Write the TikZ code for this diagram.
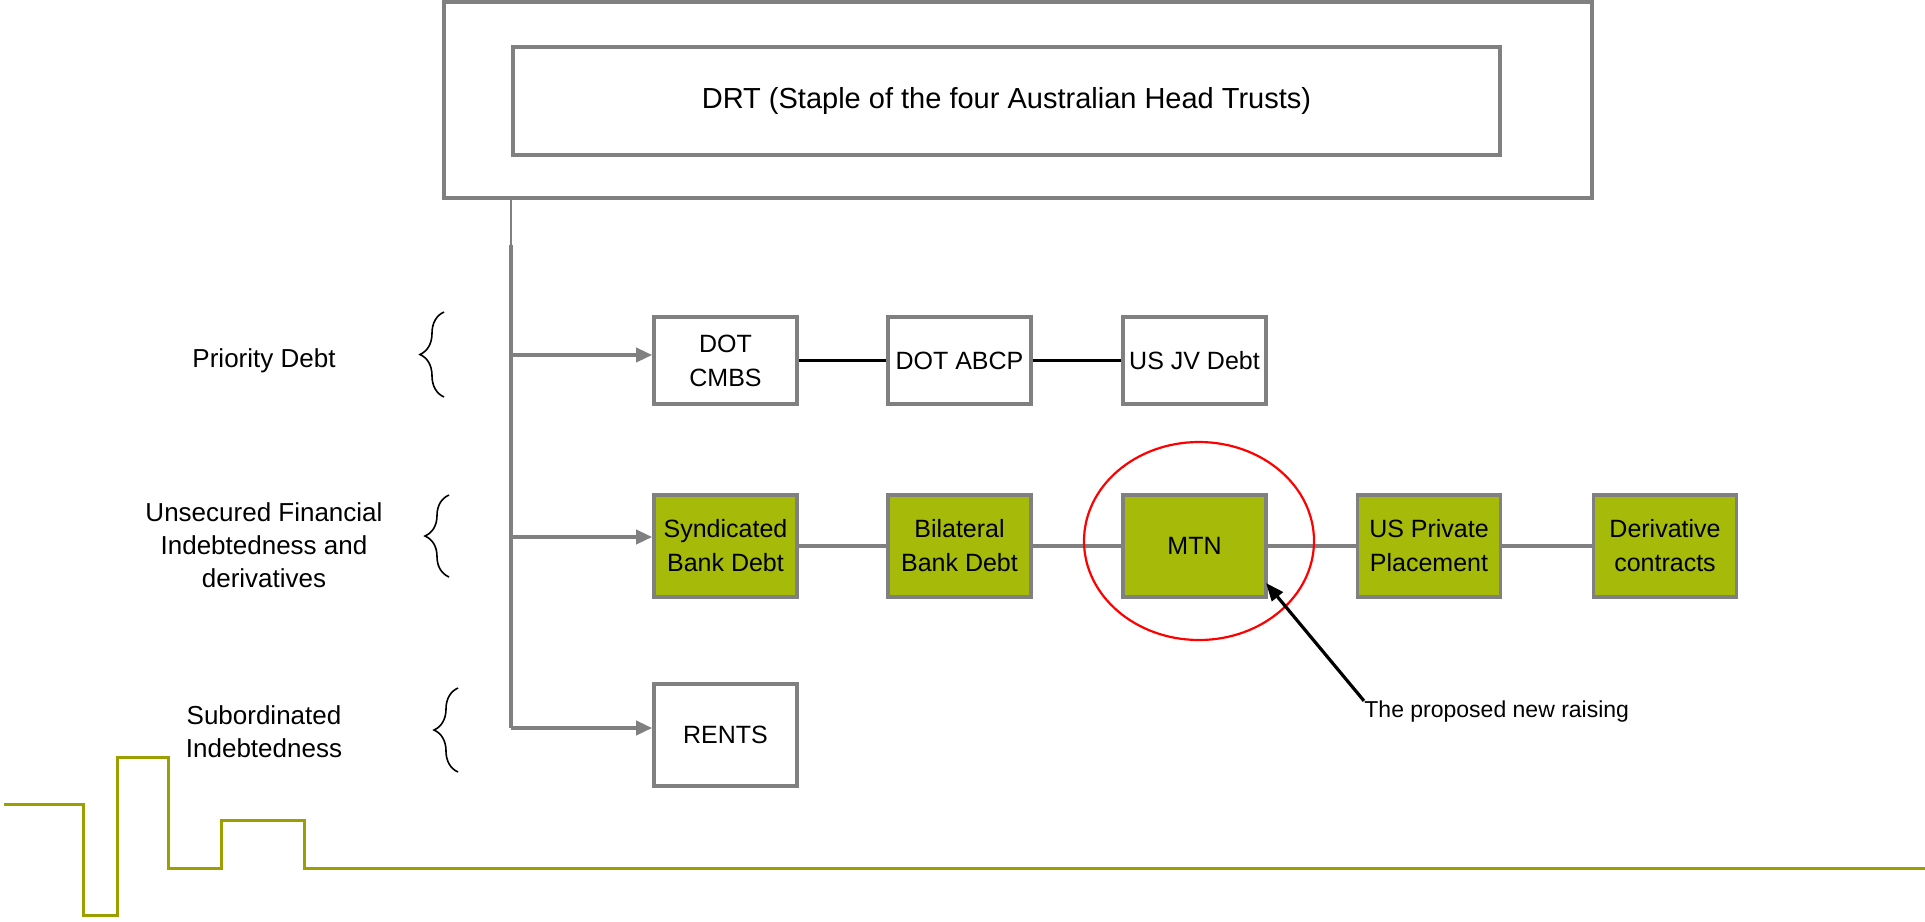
\documentclass[tikz,border=0pt]{standalone}
\usepackage{fontspec}
\setmainfont{Liberation Sans}
\usetikzlibrary{arrows.meta,decorations.pathreplacing}
\definecolor{boxgray}{RGB}{128,128,128}
\definecolor{leaf}{RGB}{166,186,10}
\definecolor{wavecol}{RGB}{155,160,0}
\begin{document}
\begin{tikzpicture}[x=0.5pt,y=-0.5pt,
    debt/.style={draw=boxgray, line width=1.8pt, fill=white, minimum width=71.5pt, minimum height=51pt, inner sep=1pt, align=center, font=\fontsize{12.5}{17}\selectfont},
    unsec/.style={debt, fill=leaf},
    feed/.style={draw=boxgray, line width=1.8pt, -{Triangle[length=8pt,width=7pt]}},
    link/.style={line width=1.6pt},
    tier/.style={align=center, font=\fontsize{13}{16.5}\selectfont},
    curly/.style={decorate, decoration={brace, amplitude=12pt}, line width=0.8pt}]
    \useasboundingbox (0,0) rectangle (1925,921);
    %riquadro DRT
    \node[draw=boxgray, line width=1.8pt, minimum width=574pt, minimum height=97.75pt] (trusts) at (1018,100) {};
    \node[draw=boxgray, line width=1.8pt, minimum width=493.5pt, minimum height=54pt, font=\fontsize{14.5}{17}\selectfont] (drt) at (1006.5,101) {DRT (Staple of the four Australian Head Trusts)};
    %tronco verticale
    \coordinate (top) at (511,198);
    \coordinate (knee) at (511,245);
    \coordinate (t1) at (511,355);
    \coordinate (t2) at (511,537);
    \coordinate (foot) at (511,728);
    \draw[boxgray, line width=0.6pt] (top) -- (knee);
    \draw[boxgray, line width=1.8pt] (knee) -- (foot);
    %scatole
    \node[debt, minimum height=43.5pt] (cmbs) at (725.5,360.5) {DOT\\CMBS};
    \node[debt, minimum height=43.5pt] (abcp) at (959.5,360.5) {DOT ABCP};
    \node[debt, minimum height=43.5pt] (usjv) at (1194.5,360.5) {US JV Debt};
    \node[unsec] (synd) at (725.5,546) {Syndicated\\Bank Debt};
    \node[unsec] (bilat) at (959.5,546) {Bilateral\\Bank Debt};
    \node[unsec] (mtn) at (1194.5,546) {MTN};
    \node[unsec] (uspp) at (1429,546) {US Private\\Placement};
    \node[unsec] (deriv) at (1665,546) {Derivative\\contracts};
    \node[debt] (rents) at (725.5,735) {RENTS};
    %frecce
    \draw[feed] (t1) -- (t1 -| cmbs.west);
    \draw[feed] (t2) -- (t2 -| synd.west);
    \draw[feed] (foot) -- (foot -| rents.west);
    \draw[link] (cmbs) -- (abcp);
    \draw[link] (abcp) -- (usjv);
    \draw[link, boxgray] (synd) -- (bilat);
    \draw[link, boxgray] (bilat) -- (mtn);
    \draw[link, boxgray] (mtn) -- (uspp);
    \draw[link, boxgray] (uspp) -- (deriv);
    %MTN evidenziato
    \coordinate (ring) at (1199,541);
    \draw[red, line width=1.1pt] (ring) ellipse [x radius=57.5pt, y radius=49.5pt];
    \node[anchor=west, inner sep=0pt, font=\fontsize{11.5}{14}\selectfont] (raising) at (1364,712) {The proposed new raising};
    \coordinate (hit) at (1266,583);
    \draw[link, -{Triangle[length=9pt,width=7pt]}] (raising.north west) -- (hit);
    %etichette a sinistra
    \node[tier] (prio) at (264,361) {Priority Debt};
    \node[tier] (unsecl) at (264,545) {Unsecured Financial\\Indebtedness and\\derivatives};
    \node[tier] (subord) at (264,732) {Subordinated\\Indebtedness};
    \coordinate (b1a) at (444,397); \coordinate (b1b) at (444,312);
    \coordinate (b2a) at (449,577); \coordinate (b2b) at (449,495);
    \coordinate (b3a) at (458,772); \coordinate (b3b) at (458,688);
    \draw[curly] (b1a) -- (b1b);
    \draw[curly] (b2a) -- (b2b);
    \draw[curly] (b3a) -- (b3b);
    %linea verde in basso
    \draw[wavecol, line width=1.5pt] (4,804) -| (83,915) -| (117,757) -| (168,868) -| (221,820) -| (304,868) -- (1925,868);
\end{tikzpicture}
\end{document}
